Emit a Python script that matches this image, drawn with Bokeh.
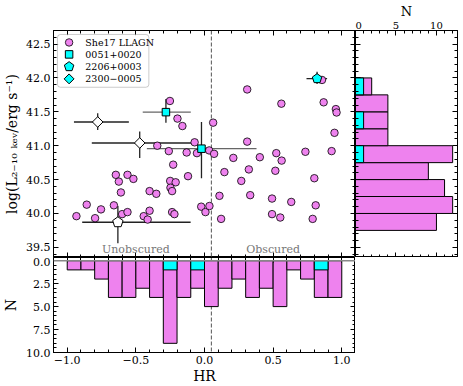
import numpy as np
from bokeh.plotting import figure
from bokeh.models import (LinearAxis, FixedTicker, CustomJSTickFormatter, Range1d,
                          Span, Label, BoxAnnotation)
from bokeh.layouts import gridplot
from bokeh.embed import file_html
from bokeh.resources import INLINE

# ---------------- data ----------------
llagn_hr = [-0.252, -0.197, -0.161, -0.072, -0.344, -0.26, -0.13, -0.055, -0.228, -0.12,
            -0.646, -0.561, -0.518, -0.624, -0.609, -0.25, -0.21, -0.248, -0.236, -0.40,
            -0.351, -0.858, -0.754, -0.66, -0.933, -0.797, -0.60, -0.561, -0.443, -0.414,
            -0.40, -0.236, -0.219, -0.024, 0.007, 0.036,
            0.311, 0.856, 0.56, 0.868, 0.957, 0.962, 0.947, 0.063, 0.311, 0.034,
            0.07, 0.21, 0.403, 0.523, 0.562, 0.735, 0.926, 0.145, 0.323, 0.516,
            0.268, 0.80, 0.109, 0.333, 0.492, 0.632, 0.81, 0.121, 0.492, 0.552, 0.788]
llagn_lx = [41.66, 41.40, 41.29, 41.05, 41.00, 40.92, 40.90, 40.89, 40.72, 40.55,
            40.57, 40.57, 40.51, 40.47, 40.31, 40.48, 40.46, 40.38, 40.33, 40.33,
            40.29, 40.13, 40.06, 40.12, 39.96, 39.93, 39.99, 40.02, 39.96, 39.91,
            40.04, 40.02, 39.99, 40.10, 40.02, 40.11,
            41.83, 41.97, 41.62, 41.64, 41.54, 41.49, 41.19, 41.34, 41.06, 40.93,
            40.88, 40.82, 40.83, 40.89, 40.78, 40.91, 40.92, 40.61, 40.65, 40.63,
            40.48, 40.52, 40.26, 40.27, 40.22, 40.17, 40.12, 39.92, 39.99, 39.94, 39.92]

# 0051+0020 (cyan squares)
sq_hr = [-0.281, -0.022]
sq_lx = [41.495, 40.956]
sq_hr_lo = [-0.45, -0.42]
sq_hr_hi = [-0.10, 0.379]
sq_lx_lo = [41.34, 40.52]
sq_lx_hi = [41.69, 41.35]
# 2206+0003 (cyan pentagon)
pe_hr = [0.82]
pe_lx = [41.99]
pe_hr_lo = [0.743]
pe_hr_hi = [0.893]
pe_lx_lo = [41.91]
pe_lx_hi = [42.09]
# open pentagon
ope_hr = [-0.631]
ope_lx = [39.87]
ope_hr_lo = [-0.891]
ope_hr_hi = [-0.101]
ope_lx_lo = [39.56]
ope_lx_hi = [40.11]
# open diamonds
odi_hr = [-0.778, -0.472]
odi_lx = [41.35, 41.04]
odi_hr_lo = [-0.951, -0.821]
odi_hr_hi = [-0.551, -0.05]
odi_lx_lo = [41.23, 40.82]
odi_lx_hi = [41.48, 41.21]

hr_split = 0.05

hr_edges = [-1.0, -0.9, -0.8, -0.7, -0.6, -0.5, -0.4, -0.3, -0.2, -0.1, 0.0,
            0.1, 0.2, 0.3, 0.4, 0.5, 0.6, 0.7, 0.8, 0.9, 1.0]
hr_counts_all = [1, 1, 2, 4, 4, 3, 4, 9, 4, 3, 5, 3, 2, 4, 3, 5, 1, 2, 4, 4]
hr_counts_src = [0, 0, 0, 0, 0, 0, 0, 1, 0, 1, 0, 0, 0, 0, 0, 0, 0, 0, 1, 0]
lx_edges = [39.75, 40.0, 40.25, 40.5, 40.75, 41.0, 41.25, 41.5, 41.75, 42.0]
lx_counts_all = [10, 12, 11, 9, 12, 4, 4, 4, 2]
lx_counts_src = [0, 0, 0, 0, 1, 0, 1, 0, 1]

legend_labels = ["She17 LLAGN", "0051+0020", "2206+0003", "2300\u22120005"]
region_labels = ["Unobscured", "Obscured"]
hr_ticks = [-1.0, -0.5, 0.0, 0.5, 1.0]
lx_ticks = [39.5, 40.0, 40.5, 41.0, 41.5, 42.0, 42.5]
nb_ticks = [0.0, 2.5, 5.0, 7.5, 10.0]
nr_ticks = [0, 5, 10]

# ---------------- style / layout ----------------
VIOLET = "#EE82EE"
CYAN = "#00FFFF"
FONT = "DejaVu Serif"
ML, MT = 51, 29          # left / top borders
FW, FH = 304, 228        # main frame
BH = 96                  # bottom histogram frame height
BB = 33                  # bottom border
RW = 102                 # right histogram frame width
X0, X1 = -1.1, 1.1
Y0, Y1 = 39.35, 42.7
NB0, NB1 = 10.0, -0.35
NR0, NR1 = 0.0, 12.6

def dx(px):
    return X0 + (px - ML) * (X1 - X0) / FW

def dy(py):
    return Y1 - (py - MT) * (Y1 - Y0) / FH

SX = FW / (X1 - X0)
SY = FH / (Y1 - Y0)

def pentagon(xc, yc, r):
    a = np.pi / 2 + 2 * np.pi * np.arange(5) / 5
    return list(xc + r * np.cos(a) / SX), list(yc + r * np.sin(a) / SY)


def add_axis(p, side, ticks, minor, labelled, digits=1, size="11px",
             title=None, title_size="14px", standoff=3, title_standoff=2):
    ax = LinearAxis(ticker=FixedTicker(ticks=list(ticks), minor_ticks=list(minor)))
    ax.axis_line_color = "black"
    ax.axis_line_width = 1
    ax.major_tick_in = 5
    ax.major_tick_out = 0
    ax.minor_tick_in = 3
    ax.minor_tick_out = 0
    ax.major_tick_line_color = "black"
    ax.minor_tick_line_color = "black"
    ax.axis_label_standoff = 0
    if labelled:
        ax.formatter = CustomJSTickFormatter(
            code="var t = Math.abs(tick) < 1e-9 ? 0 : tick; return t.toFixed(%d).replace('-', '\\u2212');" % digits)
        ax.major_label_text_font = FONT
        ax.major_label_text_font_size = size
        ax.major_label_text_color = "black"
        ax.major_label_standoff = standoff
    else:
        ax.formatter = CustomJSTickFormatter(code="return '';")
        ax.major_label_text_font_size = "0px"
        ax.major_label_standoff = 0
    if title is not None:
        ax.axis_label = title
        ax.axis_label_text_font = FONT
        ax.axis_label_text_font_size = title_size
        ax.axis_label_text_font_style = "normal"
        ax.axis_label_text_color = "black"
        ax.axis_label_standoff = title_standoff
    p.add_layout(ax, side)


def make_fig(w, h, xr, yr, bl, br, bt, bb):
    p = figure(width=w, height=h, x_range=xr, y_range=yr,
               x_axis_location=None, y_axis_location=None,
               toolbar_location=None, output_backend="svg",
               min_border_left=bl, min_border_right=br,
               min_border_top=bt, min_border_bottom=bb)
    p.grid.visible = False
    p.outline_line_color = "black"
    p.background_fill_color = "white"
    p.border_fill_color = "white"
    return p

x_minor = [round(-1.1 + 0.1 * i, 2) for i in range(23)]
y_minor = [round(39.4 + 0.1 * i, 2) for i in range(34)]
nb_minor = [0.5 * i for i in range(21)]
nr_minor = [float(i) for i in range(13)]

# ---------------- main scatter ----------------
xr = Range1d(X0, X1)
yr = Range1d(Y0, Y1)
main = make_fig(ML + FW, MT + FH, xr, yr, ML, 0, MT, 0)
add_axis(main, "left", lx_ticks, y_minor, True, 1,
         title="log(L\u2082\u208b\u2081\u2080 \u2096\u2091\u1d65/erg s\u207b\u00b9)", title_size="14px",
         title_standoff=3)
add_axis(main, "right", lx_ticks, y_minor, False)
add_axis(main, "below", hr_ticks, x_minor, False)
add_axis(main, "above", hr_ticks, x_minor, False)

main.add_layout(Span(location=hr_split, dimension="height", line_color="#555555",
                     line_dash="4 2", line_width=1, level="underlay"))

# error bars
for lo, hi, yy, col in [(sq_hr_lo, sq_hr_hi, sq_lx, "#666666"), (pe_hr_lo, pe_hr_hi, pe_lx, "#222222"),
                        (ope_hr_lo, ope_hr_hi, ope_lx, "#222222"), (odi_hr_lo, odi_hr_hi, odi_lx, "#222222")]:
    main.segment(x0=lo, x1=hi, y0=yy, y1=yy, line_color=col, line_width=1.3)
for xx, lo, hi in [(sq_hr, sq_lx_lo, sq_lx_hi), (pe_hr, pe_lx_lo, pe_lx_hi),
                   (ope_hr, ope_lx_lo, ope_lx_hi), (odi_hr, odi_lx_lo, odi_lx_hi)]:
    main.segment(x0=xx, x1=xx, y0=lo, y1=hi, line_color="#222222", line_width=1.3)

main.scatter(llagn_hr, llagn_lx, marker="circle", size=7.5, fill_color=VIOLET,
             line_color="black", line_width=0.8)
main.scatter(sq_hr, sq_lx, marker="square", size=7.5, fill_color=CYAN,
             line_color="black", line_width=1)
main.scatter(odi_hr, odi_lx, marker="square", angle=np.pi / 4, size=7.5, fill_color="white",
             line_color="black", line_width=1)
pxs, pys = [], []
for xc, yc in zip(pe_hr, pe_lx):
    a, b = pentagon(xc, yc, 5)
    pxs.append(a); pys.append(b)
main.patches(pxs, pys, fill_color=CYAN, line_color="black", line_width=1)
pxs, pys = [], []
for xc, yc in zip(ope_hr, ope_lx):
    a, b = pentagon(xc, yc, 5.5)
    pxs.append(a); pys.append(b)
main.patches(pxs, pys, fill_color="white", line_color="black", line_width=1)

# region labels
for txt, xc in zip(region_labels, [-0.5, 0.5]):
    main.add_layout(Label(x=xc, y=dy(249), text=txt, text_align="center", text_baseline="middle",
                          text_font=FONT, text_font_size="11px", text_color="#777777"))

# legend (manual)
main.add_layout(BoxAnnotation(left=dx(55), right=dx(147), top=dy(33), bottom=dy(86),
                              fill_color="white", fill_alpha=0.85, line_color="#555555",
                              line_width=1, border_radius=3))
rows = [41, 53, 65.3, 77.6]
lxm = dx(66.7)
main.scatter([lxm], [dy(rows[0])], marker="circle", size=7.5, fill_color=VIOLET,
             line_color="black", line_width=0.8, level="overlay")
main.scatter([lxm], [dy(rows[1])], marker="square", size=7.5, fill_color=CYAN,
             line_color="black", line_width=1, level="overlay")
a, b = pentagon(lxm, dy(rows[2]), 5)
main.patches([a], [b], fill_color=CYAN, line_color="black", line_width=1, level="overlay")
main.scatter([lxm], [dy(rows[3])], marker="square", angle=np.pi / 4, size=7, fill_color=CYAN,
             line_color="black", line_width=1, level="overlay")
for txt, ry in zip(legend_labels, rows):
    main.add_layout(Label(x=dx(83), y=dy(ry), text=txt, text_align="left", text_baseline="middle",
                          text_font=FONT, text_font_size="9.5px", text_color="black"))

# ---------------- right histogram ----------------
right = make_fig(RW + 6, MT + FH, Range1d(NR0, NR1), yr, 0, 6, MT, 0)
add_axis(right, "above", nr_ticks, nr_minor, True, 0, "10px",
         title="N", title_size="13px", standoff=2, title_standoff=0)
add_axis(right, "below", nr_ticks, nr_minor, False)
add_axis(right, "left", lx_ticks, y_minor, False)
add_axis(right, "right", lx_ticks, y_minor, False)
right.quad(left=0, right=lx_counts_all, bottom=lx_edges[:-1], top=lx_edges[1:],
           fill_color=VIOLET, line_color="black", line_width=1)
src_idx = [i for i, c in enumerate(lx_counts_src) if c > 0]
right.quad(left=0, right=[lx_counts_src[i] for i in src_idx],
           bottom=[lx_edges[i] for i in src_idx], top=[lx_edges[i + 1] for i in src_idx],
           fill_color=CYAN, line_color="black", line_width=1)

# ---------------- bottom histogram ----------------
bottom = make_fig(ML + FW, BH + BB, xr, Range1d(NB0, NB1), ML, 0, 0, BB)
add_axis(bottom, "below", hr_ticks, x_minor, True, 1, title="HR", title_size="14px",
         standoff=3, title_standoff=1)
add_axis(bottom, "above", hr_ticks, x_minor, False)
add_axis(bottom, "left", nb_ticks, nb_minor, True, 1, title="N", title_size="14px",
         title_standoff=4)
add_axis(bottom, "right", nb_ticks, nb_minor, False)
bottom.add_layout(Span(location=hr_split, dimension="height", line_color="#555555",
                       line_dash="4 2", line_width=1, level="underlay"))
bottom.quad(left=hr_edges[:-1], right=hr_edges[1:], top=0, bottom=hr_counts_all,
            fill_color=VIOLET, line_color="black", line_width=1)
src_idx = [i for i, c in enumerate(hr_counts_src) if c > 0]
bottom.quad(left=[hr_edges[i] for i in src_idx], right=[hr_edges[i + 1] for i in src_idx],
            top=0, bottom=[hr_counts_src[i] for i in src_idx],
            fill_color=CYAN, line_color="black", line_width=1)
bottom.add_layout(Span(location=0, dimension="width", line_color="#888888", line_width=1.5))

layout = gridplot([[main, right], [bottom, None]], toolbar_location=None)

open("out.html", "w").write(file_html(layout, INLINE))
